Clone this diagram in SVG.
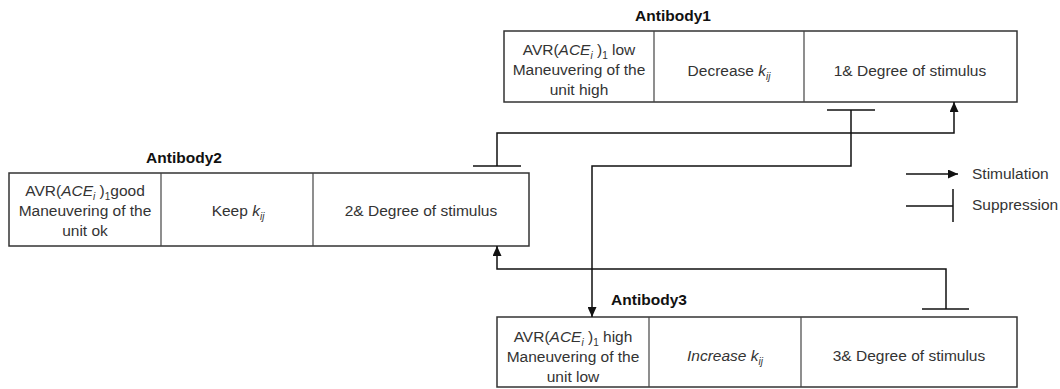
<svg xmlns="http://www.w3.org/2000/svg" width="1060" height="389" viewBox="0 0 1060 389">
  <defs>
    <marker id="arrow" markerUnits="userSpaceOnUse" markerWidth="10" markerHeight="9" refX="10" refY="4.5" orient="auto">
      <path d="M0,0 L10,4.5 L0,9 z" fill="#111"/>
    </marker>
    <style>
      .box { fill: #fff; stroke: #333; stroke-width: 1.5; }
      .div { stroke: #444; stroke-width: 1.2; }
      .t { font-family: "Liberation Sans", Arial, sans-serif; font-size: 15.5px; fill: #333; text-anchor: middle; }
      .lg { font-family: "Liberation Sans", Arial, sans-serif; font-size: 15.5px; fill: #333; }
      .title { font-family: "Liberation Sans", Arial, sans-serif; font-size: 15.5px; font-weight: bold; fill: #111; text-anchor: middle; }
      .i { font-style: italic; }
      .s { font-size: 10px; }
      .wire { fill: none; stroke: #111; stroke-width: 1.5; }
    </style>
  </defs>
  <rect width="1060" height="389" fill="#fff"/>

  <!-- Antibody1 -->
  <g id="antibody1">
    <text class="title" x="673" y="21">Antibody1</text>
    <rect class="box" x="504" y="31" width="513" height="71"/>
    <line class="div" x1="654" y1="31" x2="654" y2="102"/>
    <line class="div" x1="804" y1="31" x2="804" y2="102"/>
    <text class="t" x="579" y="55">AVR(<tspan class="i">ACE</tspan><tspan class="i s" dy="4">i</tspan><tspan dy="-4"> )</tspan><tspan class="s" dy="4">1</tspan><tspan dy="-4"> low</tspan></text>
    <text class="t" x="579" y="75">Maneuvering of the</text>
    <text class="t" x="579" y="95">unit high</text>
    <text class="t" x="729" y="76">Decrease <tspan class="i">k</tspan><tspan class="i s" dy="4">ij</tspan></text>
    <text class="t" x="910" y="76">1&amp; Degree of stimulus</text>
  </g>

  <!-- Antibody2 -->
  <g id="antibody2">
    <text class="title" x="184" y="163">Antibody2</text>
    <rect class="box" x="9" y="173" width="520" height="73"/>
    <line class="div" x1="161" y1="173" x2="161" y2="246"/>
    <line class="div" x1="313" y1="173" x2="313" y2="246"/>
    <text class="t" x="85" y="196">AVR(<tspan class="i">ACE</tspan><tspan class="i s" dy="4">i</tspan><tspan dy="-4"> )</tspan><tspan class="s" dy="4">1</tspan><tspan dy="-4">good</tspan></text>
    <text class="t" x="85" y="216">Maneuvering of the</text>
    <text class="t" x="85" y="236">unit ok</text>
    <text class="t" x="238" y="216">Keep <tspan class="i">k</tspan><tspan class="i s" dy="4">ij</tspan></text>
    <text class="t" x="421" y="216">2&amp; Degree of stimulus</text>
  </g>

  <!-- Antibody3 -->
  <g id="antibody3">
    <text class="title" x="649" y="305">Antibody3</text>
    <rect class="box" x="497" y="317" width="520" height="70"/>
    <line class="div" x1="649" y1="317" x2="649" y2="387"/>
    <line class="div" x1="801" y1="317" x2="801" y2="387"/>
    <text class="t" x="573" y="342">AVR(<tspan class="i">ACE</tspan><tspan class="i s" dy="4">i</tspan><tspan dy="-4"> )</tspan><tspan class="s" dy="4">1</tspan><tspan dy="-4">  high</tspan></text>
    <text class="t" x="573" y="362">Maneuvering of the</text>
    <text class="t" x="573" y="382">unit low</text>
    <text class="t" x="725" y="361"><tspan class="i">Increase k</tspan><tspan class="i s" dy="4">ij</tspan></text>
    <text class="t" x="909" y="361">3&amp; Degree of stimulus</text>
  </g>

  <!-- connectors -->
  <g id="connectors">
    <!-- Antibody1 bar, down and across into Antibody3 -->
    <line class="wire" x1="827" y1="110" x2="875" y2="110"/>
    <path class="wire" d="M851,110 V166 H592 V317" marker-end="url(#arrow)"/>
    <!-- Antibody2 bar, up and across into Antibody1 -->
    <line class="wire" x1="473" y1="166" x2="521" y2="166"/>
    <path class="wire" d="M497,166 V133 H954 V102" marker-end="url(#arrow)"/>
    <!-- Antibody3 bar, up and across into Antibody2 -->
    <line class="wire" x1="922" y1="309" x2="969" y2="309"/>
    <path class="wire" d="M946,309 V269 H497 V246" marker-end="url(#arrow)"/>
  </g>

  <!-- legend -->
  <g id="legend">
    <line class="wire" x1="906" y1="174" x2="958" y2="174" marker-end="url(#arrow)"/>
    <text class="lg" x="972" y="179">Stimulation</text>
    <line class="wire" x1="906" y1="206" x2="953" y2="206"/>
    <line class="wire" x1="953" y1="189" x2="953" y2="222"/>
    <text class="lg" x="972" y="210">Suppression</text>
  </g>
</svg>
